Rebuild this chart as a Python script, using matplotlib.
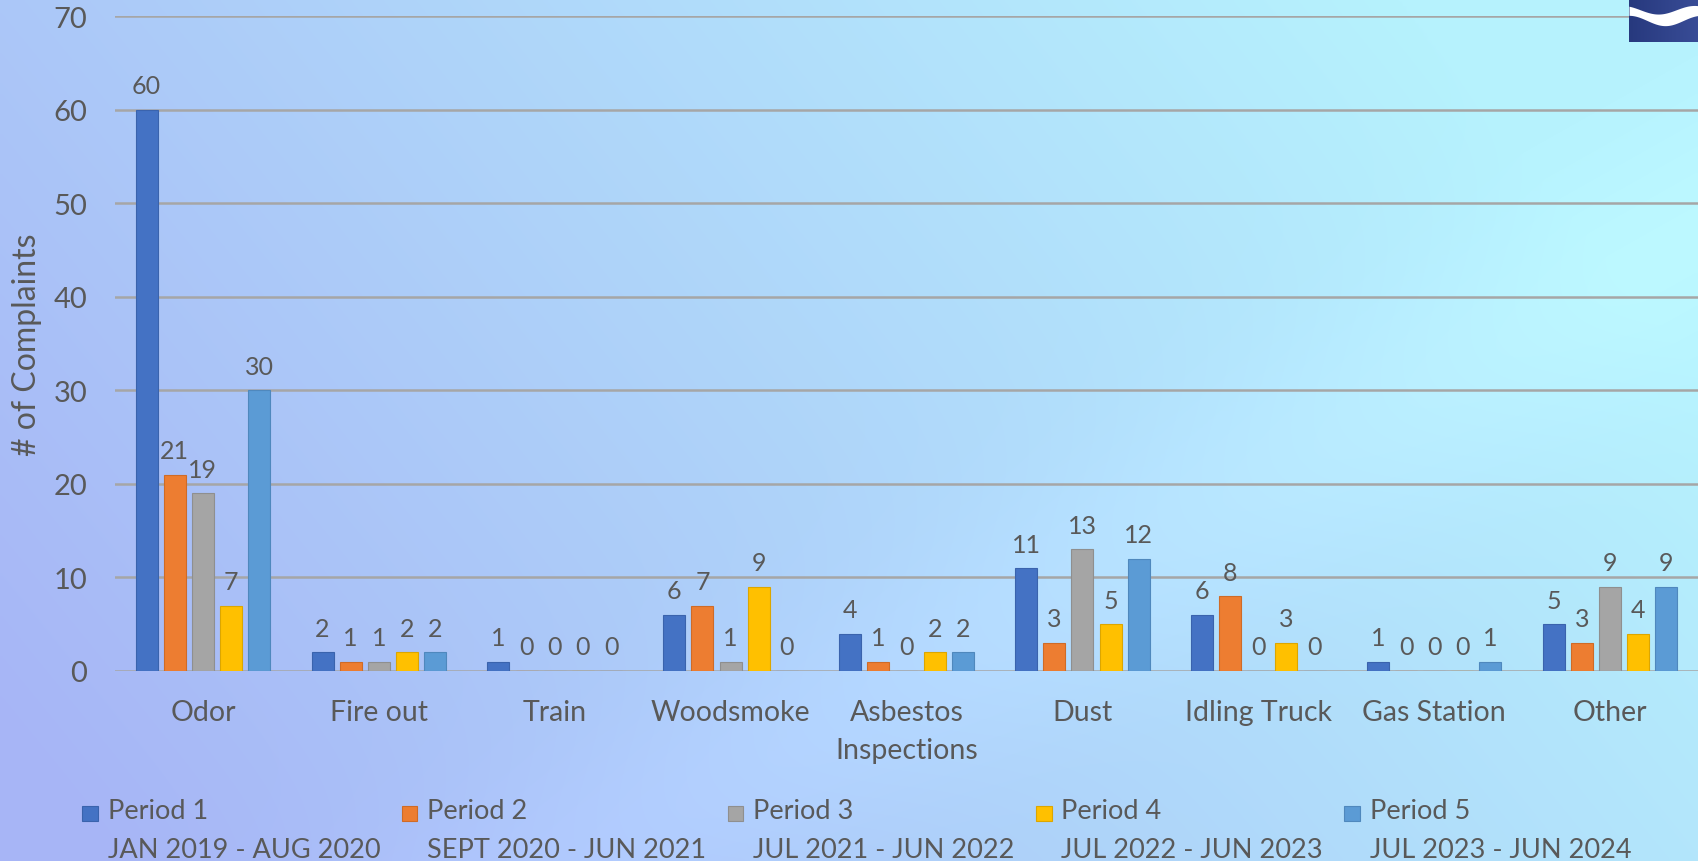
import numpy as np
import matplotlib
matplotlib.use("Agg")
import matplotlib.pyplot as plt
from matplotlib.patches import Rectangle
from matplotlib.legend_handler import HandlerPatch, update_from_first_child
from matplotlib.container import BarContainer
from matplotlib.colors import to_rgb

# ---------------- data ----------------
categories = ["Odor", "Fire out", "Train", "Woodsmoke", "Asbestos\nInspections",
              "Dust", "Idling Truck", "Gas Station", "Other"]
period_names = ["Period 1", "Period 2", "Period 3", "Period 4", "Period 5"]
period_ranges = ["JAN 2019 - AUG 2020", "SEPT 2020 - JUN 2021", "JUL 2021 - JUN 2022",
                 "JUL 2022 - JUN 2023", "JUL 2023 - JUN 2024"]
period1 = [60, 2, 1, 6, 4, 11, 6, 1, 5]
period2 = [21, 1, 0, 7, 1, 3, 8, 0, 3]
period3 = [19, 1, 0, 1, 0, 13, 0, 0, 9]
period4 = [7, 2, 0, 9, 2, 5, 3, 0, 4]
period5 = [30, 2, 0, 0, 2, 12, 0, 1, 9]
y_ticks = [0, 10, 20, 30, 40, 50, 60, 70]
y_label = "# of Complaints"

series = [period1, period2, period3, period4, period5]
colors = ["#4472C4", "#ED7D31", "#A5A5A5", "#FFC000", "#5B9BD5"]
edges = ["#3a63ad", "#cf6b27", "#8f8f8f", "#dca600", "#4f88bd"]
text_color = "#595959"
FONT = ["Lato", "DejaVu Sans"]
plt.rcParams["font.family"] = FONT

W, H = 1698, 862
fig = plt.figure(figsize=(W / 100, H / 100), dpi=100)

# ---------------- background gradient ----------------
bg = fig.add_axes([0, 0, 1, 1], zorder=-10)
u = np.linspace(0, 1, 400)[None, :]
v = np.linspace(0, 1, 200)[:, None]  # 0 top -> 1 bottom
t = np.clip(0.85 * u + 0.35 * (1 - v) - 0.05, 0, 1)
c0 = np.array(to_rgb("#a7b5f6"))
c1 = np.array(to_rgb("#b6f2fd"))
img = c0[None, None, :] * (1 - t[..., None]) + c1[None, None, :] * t[..., None]
band = np.exp(-((u * 1.0 - (1 - v) * 0.9 - 0.35) ** 2) / 0.02) * 0.025
img = np.clip(img + band[..., None], 0, 1)
bg.imshow(img, aspect="auto", extent=[0, 1, 0, 1], interpolation="bilinear")
bg.set_axis_off()

# ---------------- main axes ----------------
left_px, right_px, top_px, bottom_px = 115, 1698, 17, 672
ax = fig.add_axes([left_px / W, 1 - bottom_px / H, (right_px - left_px) / W,
                   (bottom_px - top_px) / H])
ax.set_facecolor("none")

x = np.arange(len(categories))
pitch = 0.16
bw = 0.125
for i, (vals, col, ec) in enumerate(zip(series, colors, edges)):
    bars = ax.bar(x + (i - 2) * pitch, vals, bw, color=col, edgecolor=ec,
                  linewidth=0.8, zorder=3,
                  label=f"{period_names[i]}\n{period_ranges[i]}")
    ax.bar_label(bars, padding=9, fontsize=18, color=text_color, zorder=4)

ax.set_xlim(-0.5, len(categories) - 0.5)
ax.set_ylim(0, 70)
ax.set_yticks(y_ticks)
ax.yaxis.grid(True, color="#a6a6a6", linewidth=1.8, zorder=1)
ax.set_axisbelow(True)
for s in ["top", "right", "left", "bottom"]:
    ax.spines[s].set_visible(False)
ax.tick_params(axis="y", length=0, pad=20, labelsize=21, labelcolor=text_color)
ax.tick_params(axis="x", length=0, pad=20, labelsize=20.5, labelcolor=text_color)
ax.set_xticks(x)
ax.set_xticklabels(categories, linespacing=1.6)
ax.set_ylabel(y_label, fontsize=23, color=text_color)
ax.yaxis.label.set_va("center")
ax.yaxis.set_label_coords((27 - left_px) / (right_px - left_px), 0.5)

# ---------------- legend ----------------
LEG_FS = 19.5
LINESP = 1.7


def square(legend, orig_handle, xdescent, ydescent, width, height, fontsize):
    s = 0.58 * fontsize
    shift = 0.5 * LINESP * 0.74 * fontsize
    return Rectangle((-xdescent + (width - s) / 2, -ydescent + (height - s) / 2 + shift), s, s)


handles, labels = ax.get_legend_handles_labels()
leg = fig.legend(handles, labels, loc="upper left", bbox_to_anchor=(82 / W, 1 - 799 / H),
                 ncol=5, frameon=False, fontsize=LEG_FS, handlelength=0.6,
                 handleheight=0.7, handletextpad=0.35, columnspacing=0.78,
                 borderpad=0, borderaxespad=0,
                 handler_map={BarContainer: HandlerPatch(patch_func=square,
                                                         update_func=update_from_first_child)},
                 labelcolor=text_color)
for tt in leg.get_texts():
    tt.set_linespacing(LINESP)

# ---------------- logo (decoration) ----------------
logo = fig.add_axes([1629 / W, 1 - 43 / H, (W - 1629) / W, 43 / H], zorder=5)
gx = np.linspace(0, 1, 50)[None, :]
gy = np.linspace(0, 1, 20)[:, None]
lg = np.array(to_rgb("#27397e"))[None, None, :] * (1 - 0.5 * gx[..., None]) + \
     np.array(to_rgb("#4a5fae"))[None, None, :] * (0.5 * gx[..., None]) + 0 * gy[..., None]
logo.imshow(lg, aspect="auto", extent=[0, 1, 0, 1])
wx = np.linspace(0, 1, 60)
logo.fill_between(wx, 0.5 + 0.12 * np.cos(wx * 6.0), 0.75 + 0.1 * np.cos(wx * 6.0 + 0.6),
                  color="white", lw=0)
logo.set_xlim(0, 1)
logo.set_ylim(0, 1)
logo.set_axis_off()

fig.savefig("out.png", dpi=100)
